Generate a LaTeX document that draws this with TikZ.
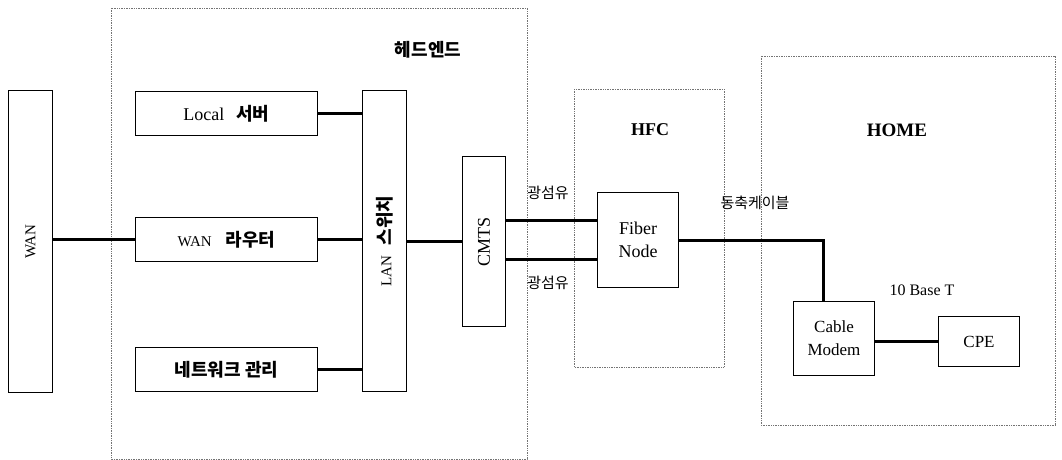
\documentclass[tikz,border=0pt]{standalone}
\usepackage{fontspec}
\setmainfont{Liberation Serif}
\newfontfamily\kr{Noto Sans CJK KR}
\begin{document}
\begin{tikzpicture}[x=1pt,y=-1pt,
  blk/.style={draw, line width=1.2pt, inner sep=0pt, align=center},
  region/.style={draw=black!55, densely dotted, line width=0.7pt},
  link/.style={line width=3pt},
  lbl/.style={inner sep=0pt}]
\useasboundingbox (0,0) rectangle (1062,460);
% regions
\draw[region] (111,8) rectangle (527,459);
\draw[region] (574,89) rectangle (724,367);
\draw[region] (761,56) rectangle (1055,425);
\node[lbl] (thead) at (428,50) {\kr\bfseries\fontsize{18}{20}\selectfont 헤드엔드};
\node[lbl] (thfc) at (650,130) {\bfseries\fontsize{18}{20}\selectfont HFC};
\node[lbl] (thome) at (897,130) {\bfseries\fontsize{19}{20}\selectfont HOME};
% blocks
\node[blk, minimum width=44pt, minimum height=302pt] (wan) at (30.5,241.5) {};
\node[rotate=90, lbl] (twan) at (wan.center) {\fontsize{15}{17}\selectfont WAN};
\node[blk, minimum width=182pt, minimum height=44pt] (local) at (226.5,113.5)
  {\fontsize{18}{20}\selectfont Local\hspace{12pt}{\kr\bfseries 서버}};
\node[blk, minimum width=182pt, minimum height=44pt] (router) at (226.5,239.5)
  {\fontsize{15}{20}\selectfont WAN\hspace{14pt}{\fontsize{18}{20}\selectfont\kr\bfseries 라우터}};
\node[blk, minimum width=182pt, minimum height=44pt] (mgmt) at (226.5,369.5)
  {\fontsize{18}{20}\selectfont\kr\bfseries 네트워크 관리};
\node[blk, minimum width=44pt, minimum height=301pt] (lan) at (384.5,241) {};
\node[rotate=90, lbl] (tlan) at (lan.center)
  {\fontsize{15}{17}\selectfont LAN\hspace{10pt}{\fontsize{18}{20}\selectfont\kr\bfseries 스위치}};
\node[blk, minimum width=43pt, minimum height=170pt] (cmts) at (484,241.5) {};
\node[rotate=90, lbl] (tcmts) at (cmts.center) {\fontsize{18}{20}\selectfont CMTS};
\node[blk, minimum width=81pt, minimum height=95pt, font=\fontsize{18}{23}\selectfont] (fiber) at (638,240)
  {Fiber\\Node};
\node[blk, minimum width=81pt, minimum height=74pt, font=\fontsize{17}{23}\selectfont] (modem) at (834,338.5)
  {Cable\\Modem};
\node[blk, minimum width=81pt, minimum height=50pt, font=\fontsize{17}{20}\selectfont] (cpe) at (979,341.5)
  {CPE};
% labels
\node[lbl] (tf1) at (548,193) {\kr\fontsize{15}{17}\selectfont 광섬유};
\node[lbl] (tf2) at (548,283) {\kr\fontsize{15}{17}\selectfont 광섬유};
\node[lbl] (tcoax) at (755,203) {\kr\fontsize{15}{17}\selectfont 동축케이블};
\node[lbl] (tbase) at (922,290) {\fontsize{16}{18}\selectfont 10 Base T};
% coordinates
\coordinate (c1) at ([yshift=21.5pt]cmts.east);
\coordinate (c2) at ([yshift=-17.5pt]cmts.east);
\coordinate (bend) at (823,240);
% connectors
\draw[link] (wan.east |- router.west) -- (router.west);
\draw[link] (local.east) -- (lan.west |- local.east);
\draw[link] (router.east) -- (lan.west |- router.east);
\draw[link] (mgmt.east) -- (lan.west |- mgmt.east);
\draw[link] (lan.east |- cmts.west) -- (cmts.west);
\draw[link] (c1) -- (fiber.west |- c1);
\draw[link] (c2) -- (fiber.west |- c2);
\draw[link] (fiber.east) -- (bend) -- (bend |- modem.north);
\draw[link] (modem.east |- cpe.west) -- (cpe.west);
\end{tikzpicture}
\end{document}
